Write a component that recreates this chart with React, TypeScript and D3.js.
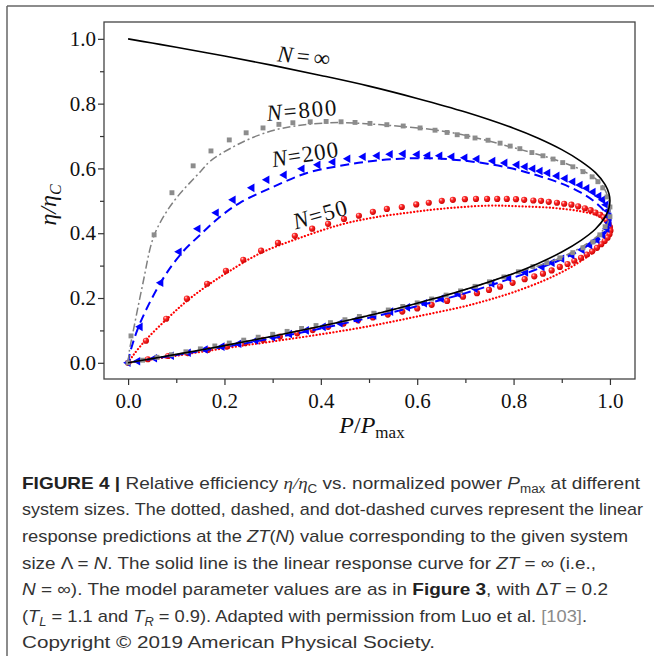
import React, { useEffect, useRef } from 'react';
import * as d3 from 'd3';

const xTicks = [0.0, 0.2, 0.4, 0.6, 0.8, 1.0];
const yTicks = [0.0, 0.2, 0.4, 0.6, 0.8, 1.0];
const minorTicks = [0.1, 0.3, 0.5, 0.7, 0.9];

// N = infinity, solid curve (upper branch then lower branch)
const nInfLine = [
  [0, 1.0], [0.05, 0.987], [0.1, 0.974], [0.2, 0.947], [0.3, 0.918], [0.4, 0.887], [0.5, 0.854],
  [0.6, 0.816], [0.7, 0.774], [0.8, 0.724], [0.85, 0.694], [0.9, 0.658], [0.94, 0.622], [0.97, 0.587],
  [0.99, 0.55], [0.998, 0.522], [1.0, 0.5], [0.998, 0.478], [0.99, 0.45], [0.97, 0.413], [0.94, 0.378],
  [0.9, 0.342], [0.85, 0.306], [0.8, 0.276], [0.7, 0.226], [0.6, 0.184], [0.5, 0.146], [0.4, 0.113],
  [0.3, 0.082], [0.2, 0.053], [0.1, 0.026], [0.05, 0.013], [0, 0],
];

// N = 800, dot-dashed curve
const n800Line = [
  [0, 0], [0.003, 0.04], [0.01, 0.093], [0.03, 0.24], [0.052, 0.385], [0.075, 0.455], [0.102, 0.512],
  [0.15, 0.59], [0.17, 0.622], [0.22, 0.668], [0.27, 0.702], [0.32, 0.724], [0.42, 0.741], [0.54, 0.733],
  [0.67, 0.711], [0.81, 0.66], [0.9, 0.62], [0.95, 0.588], [0.98, 0.555], [0.995, 0.515], [1.0, 0.47],
  [0.995, 0.43], [0.98, 0.4], [0.96, 0.375], [0.9, 0.326], [0.8, 0.275], [0.7, 0.226], [0.6, 0.183],
  [0.5, 0.147], [0.4, 0.113], [0.3, 0.082], [0.2, 0.053], [0.1, 0.026], [0, 0],
];

// N = 800, simulation (squares)
const n800Points = [
  [0, 0], [0.006, 0.083], [0.054, 0.395], [0.091, 0.525], [0.135, 0.608], [0.172, 0.654], [0.21, 0.688],
  [0.245, 0.71], [0.28, 0.725], [0.313, 0.736], [0.342, 0.741], [0.378, 0.744], [0.411, 0.745],
  [0.442, 0.744], [0.471, 0.742], [0.502, 0.739], [0.537, 0.735], [0.571, 0.731], [0.606, 0.725],
  [0.637, 0.718], [0.662, 0.711], [0.683, 0.704], [0.703, 0.699], [0.72, 0.694], [0.747, 0.687],
  [0.772, 0.678], [0.793, 0.669], [0.813, 0.661], [0.838, 0.649], [0.861, 0.639], [0.882, 0.629],
  [0.902, 0.618], [0.923, 0.605], [0.944, 0.59], [0.963, 0.574], [0.975, 0.559], [0.985, 0.54],
  [0.994, 0.512], [1.0, 0.481], [1.0, 0.451], [0.99, 0.42], [0.979, 0.395], [0.965, 0.373],
  [0.944, 0.355], [0.923, 0.34], [0.896, 0.324], [0.869, 0.309], [0.84, 0.297], [0.81, 0.281],
  [0.78, 0.265], [0.75, 0.25], [0.72, 0.236], [0.69, 0.222], [0.66, 0.209], [0.63, 0.197], [0.6, 0.185],
  [0.57, 0.174], [0.54, 0.163], [0.51, 0.153], [0.48, 0.143], [0.45, 0.133], [0.42, 0.124], [0.39, 0.115],
  [0.36, 0.106], [0.33, 0.097], [0.3, 0.088], [0.27, 0.079], [0.24, 0.07], [0.21, 0.061], [0.18, 0.052],
  [0.15, 0.043], [0.12, 0.034], [0.09, 0.025], [0.06, 0.017], [0.03, 0.008],
];

// N = 200, dashed curve
const n200Line = [
  [0, 0], [0.004, 0.031], [0.025, 0.123], [0.071, 0.256], [0.112, 0.34], [0.154, 0.401], [0.191, 0.451],
  [0.232, 0.494], [0.301, 0.543], [0.371, 0.586], [0.44, 0.608], [0.508, 0.623], [0.579, 0.631],
  [0.65, 0.63], [0.72, 0.62], [0.79, 0.602], [0.85, 0.578], [0.9, 0.553], [0.94, 0.525], [0.97, 0.495],
  [0.99, 0.465], [0.998, 0.44], [0.998, 0.42], [0.99, 0.4], [0.975, 0.378], [0.95, 0.358], [0.92, 0.333],
  [0.88, 0.307], [0.84, 0.284], [0.8, 0.263], [0.7, 0.215], [0.6, 0.175], [0.5, 0.139], [0.4, 0.106],
  [0.3, 0.076], [0.2, 0.049], [0.1, 0.024], [0, 0],
];

// N = 200, simulation (left triangles)
const n200Points = [
  [0, 0], [0.025, 0.111], [0.068, 0.247], [0.106, 0.343], [0.145, 0.414], [0.183, 0.463], [0.218, 0.503],
  [0.257, 0.54], [0.288, 0.565], [0.324, 0.58], [0.361, 0.599], [0.394, 0.611], [0.425, 0.62],
  [0.456, 0.63], [0.488, 0.636], [0.517, 0.639], [0.544, 0.644], [0.571, 0.645], [0.6, 0.643],
  [0.622, 0.64], [0.647, 0.639], [0.672, 0.636], [0.699, 0.633], [0.724, 0.629], [0.757, 0.623],
  [0.782, 0.617], [0.807, 0.611], [0.824, 0.605], [0.84, 0.599], [0.855, 0.592], [0.871, 0.586],
  [0.89, 0.577], [0.907, 0.569], [0.923, 0.559], [0.938, 0.549], [0.952, 0.539], [0.965, 0.527],
  [0.977, 0.515], [0.985, 0.503], [0.992, 0.488], [0.996, 0.469], [0.998, 0.451], [0.998, 0.432],
  [0.994, 0.414], [0.985, 0.395], [0.973, 0.38], [0.958, 0.364], [0.942, 0.349], [0.921, 0.333],
  [0.9, 0.321], [0.88, 0.309], [0.859, 0.296], [0.825, 0.279], [0.79, 0.262], [0.755, 0.245],
  [0.72, 0.229], [0.685, 0.213], [0.65, 0.198], [0.615, 0.184], [0.58, 0.171], [0.545, 0.158],
  [0.51, 0.146], [0.475, 0.134], [0.44, 0.122], [0.405, 0.111], [0.37, 0.1], [0.335, 0.089], [0.3, 0.079],
  [0.265, 0.069], [0.23, 0.059], [0.195, 0.05], [0.16, 0.041], [0.125, 0.031], [0.09, 0.022],
  [0.055, 0.014], [0.02, 0.005],
];

// N = 50, dotted curve
const n50Line = [
  [0, 0], [0.01, 0.022], [0.037, 0.071], [0.081, 0.136], [0.122, 0.191], [0.164, 0.238], [0.205, 0.278],
  [0.274, 0.338], [0.363, 0.389], [0.44, 0.426], [0.508, 0.448], [0.579, 0.463], [0.647, 0.475],
  [0.745, 0.485], [0.813, 0.483], [0.882, 0.478], [0.938, 0.468], [0.973, 0.455], [0.99, 0.44],
  [0.998, 0.415], [0.996, 0.392], [0.98, 0.362], [0.96, 0.335], [0.93, 0.305], [0.9, 0.28], [0.86, 0.252],
  [0.8, 0.218], [0.75, 0.195], [0.7, 0.175], [0.6, 0.143], [0.5, 0.113], [0.4, 0.088], [0.3, 0.066],
  [0.2, 0.045], [0.1, 0.022], [0, 0],
];

// N = 50, simulation (balls)
const n50Points = [
  [0, 0], [0.037, 0.068], [0.079, 0.136], [0.122, 0.198], [0.164, 0.244], [0.203, 0.284], [0.239, 0.318],
  [0.276, 0.346], [0.311, 0.37], [0.346, 0.392], [0.382, 0.414], [0.415, 0.429], [0.448, 0.444],
  [0.479, 0.454], [0.508, 0.466], [0.537, 0.475], [0.568, 0.481], [0.598, 0.489], [0.624, 0.494],
  [0.651, 0.5], [0.674, 0.503], [0.699, 0.505], [0.722, 0.506], [0.745, 0.506], [0.766, 0.506],
  [0.786, 0.506], [0.805, 0.505], [0.822, 0.503], [0.841, 0.501], [0.857, 0.5], [0.873, 0.497],
  [0.89, 0.494], [0.905, 0.491], [0.92, 0.488], [0.934, 0.483], [0.948, 0.477], [0.96, 0.471],
  [0.97, 0.464], [0.98, 0.457], [0.987, 0.449], [0.993, 0.44], [0.997, 0.43], [1.0, 0.419],
  [1.001, 0.408], [0.999, 0.397], [0.995, 0.386], [0.989, 0.376], [0.982, 0.366], [0.973, 0.355],
  [0.963, 0.344], [0.952, 0.334], [0.94, 0.324], [0.926, 0.315], [0.912, 0.305], [0.896, 0.296],
  [0.879, 0.285], [0.861, 0.275], [0.843, 0.267], [0.823, 0.258], [0.798, 0.247], [0.772, 0.235],
  [0.749, 0.225], [0.724, 0.215], [0.695, 0.204], [0.662, 0.191], [0.63, 0.179], [0.6, 0.168],
  [0.569, 0.158], [0.539, 0.149], [0.508, 0.14], [0.477, 0.131], [0.447, 0.121], [0.415, 0.111],
  [0.383, 0.101], [0.351, 0.091], [0.315, 0.081], [0.28, 0.071], [0.243, 0.061], [0.205, 0.05],
  [0.166, 0.04], [0.124, 0.03], [0.083, 0.021], [0.041, 0.011],
];

const serif = '"Liberation Serif", "Times New Roman", serif';
const capFont = '"Liberation Sans Narrow", "Liberation Sans", Arial, sans-serif';

export default function App() {
  const axisRef = useRef<SVGGElement>(null);

  const x = d3.scaleLinear().domain([-0.05, 1.052]).range([104, 635]);
  const y = d3.scaleLinear().domain([-0.05, 1.052]).range([379, 22]);
  const line = d3.line<number[]>()
    .x((d) => x(d[0]))
    .y((d) => y(d[1]))
    .curve(d3.curveCatmullRom.alpha(0.5));

  const square = d3.symbol(d3.symbolSquare, 24)();
  const triangle = d3.symbol(d3.symbolTriangle, 32)();

  useEffect(() => {
    const g = d3.select(axisRef.current);
    g.selectAll('*').remove();
    const fmt = d3.format('.1f');

    g.append('g').attr('transform', 'translate(0,379)')
      .call(d3.axisBottom(x).tickValues(xTicks).tickSize(6).tickPadding(8).tickFormat(fmt));
    g.append('g').attr('transform', 'translate(0,379)')
      .call(d3.axisBottom(x).tickValues(minorTicks).tickSize(4).tickFormat(() => ''));
    g.append('g').attr('transform', 'translate(104,0)')
      .call(d3.axisLeft(y).tickValues(yTicks).tickSize(6).tickPadding(2).tickFormat(fmt));
    g.append('g').attr('transform', 'translate(104,0)')
      .call(d3.axisLeft(y).tickValues(minorTicks).tickSize(4).tickFormat(() => ''));

    g.selectAll('.domain').remove();
    g.selectAll('line').attr('stroke', '#333').attr('stroke-width', 1.2);
    g.selectAll('text').attr('font-family', serif).attr('font-size', 21).attr('fill', '#111');
  }, []);

  return (
    <svg width={654} height={656} style={{ position: 'absolute', left: 0, top: 0 }}>
      <defs>
        <radialGradient id="ball" cx="35%" cy="32%" r="70%">
          <stop offset="0" stopColor="#ffe0e0" />
          <stop offset="0.35" stopColor="#ff2a2a" />
          <stop offset="1" stopColor="#c80000" />
        </radialGradient>
        <clipPath id="plot">
          <rect x={104} y={22} width={531} height={357} />
        </clipPath>
      </defs>

      {/* outer figure frame */}
      <line x1={7} y1={6} x2={654} y2={6} stroke="#666" strokeWidth={1.5} />
      <line x1={7} y1={6} x2={7} y2={656} stroke="#666" strokeWidth={1.5} />

      <rect x={104} y={22} width={531} height={357} fill="none" stroke="#444" strokeWidth={1.3} />
      <g ref={axisRef} />

      <g clipPath="url(#plot)">
        {/* N = 50 */}
        <path d={line(n50Line) || ''} fill="none" stroke="#ff0000" strokeWidth={2.2}
          strokeDasharray="0.1 3.3" strokeLinecap="round" />
        {n50Points.map((d, i) => (
          <circle key={'r' + i} cx={x(d[0])} cy={y(d[1])} r={3.1} fill="url(#ball)" />
        ))}

        {/* N = 200 */}
        <path d={line(n200Line) || ''} fill="none" stroke="#0000ff" strokeWidth={2}
          strokeDasharray="9 5" />
        {n200Points.map((d, i) => (
          <path key={'b' + i} d={triangle || ''} fill="#0000ff"
            transform={`translate(${x(d[0])},${y(d[1])}) rotate(-90)`} />
        ))}

        {/* N = 800 */}
        <path d={line(n800Line) || ''} fill="none" stroke="#808080" strokeWidth={1.5}
          strokeDasharray="8 3 2 3" />
        {n800Points.map((d, i) => (
          <path key={'g' + i} d={square || ''} fill="#8c8c8c"
            transform={`translate(${x(d[0])},${y(d[1])})`} />
        ))}

        {/* N = infinity */}
        <path d={line(nInfLine) || ''} fill="none" stroke="#000" strokeWidth={1.6} />
      </g>

      {/* curve labels */}
      <g fontFamily={serif} fontSize={23} fill="#111">
        <text transform="translate(303,64) rotate(6)" textAnchor="middle" textLength={53}>
          <tspan fontStyle="italic">N</tspan>=∞
        </text>
        <text transform="translate(302,118) rotate(-5)" textAnchor="middle" textLength={70}>
          <tspan fontStyle="italic">N</tspan>=800
        </text>
        <text transform="translate(306,162) rotate(-9)" textAnchor="middle" textLength={67}>
          <tspan fontStyle="italic">N</tspan>=200
        </text>
        <text transform="translate(322,222) rotate(-16)" textAnchor="middle" textLength={55}>
          <tspan fontStyle="italic">N</tspan>=50
        </text>
      </g>

      {/* axis titles */}
      <text x={372} y={433} textAnchor="middle" fontFamily={serif} fontSize={24} fill="#111">
        <tspan fontStyle="italic">P</tspan>/<tspan fontStyle="italic">P</tspan>
        <tspan fontSize={17} dy={5}>max</tspan>
      </text>
      <text transform="translate(56,205) rotate(-90)" textAnchor="middle" fontFamily={serif}
        fontSize={24} fill="#111" fontStyle="italic">
        η/η<tspan fontSize={16} dy={5}>C</tspan>
      </text>

      {/* caption */}
      <g fontFamily={capFont} fontSize={17} fill="#333">
        <text x={22} y={489} textLength={618} lengthAdjust="spacingAndGlyphs">
          <tspan fontWeight="bold" fill="#222">FIGURE 4 | </tspan>Relative efficiency <tspan fontFamily={serif} fontStyle="italic">η/η</tspan>
          <tspan fontSize={12} dy={4}>C</tspan><tspan dy={-4}> vs. normalized power </tspan>
          <tspan fontStyle="italic">P</tspan><tspan fontSize={12} dy={4}>max</tspan>
          <tspan dy={-4}> at different</tspan>
        </text>
        <text x={22} y={515} textLength={621} lengthAdjust="spacingAndGlyphs">
          system sizes. The dotted, dashed, and dot-dashed curves represent the linear
        </text>
        <text x={22} y={542} textLength={606} lengthAdjust="spacingAndGlyphs">
          response predictions at the <tspan fontStyle="italic">ZT</tspan>(<tspan fontStyle="italic">N</tspan>) value corresponding to the given system
        </text>
        <text x={22} y={569} textLength={574} lengthAdjust="spacingAndGlyphs">
          size Λ = <tspan fontStyle="italic">N</tspan>. The solid line is the linear response curve for <tspan fontStyle="italic">ZT</tspan> = ∞ (i.e.,
        </text>
        <text x={22} y={595} textLength={586} lengthAdjust="spacingAndGlyphs">
          <tspan fontStyle="italic">N</tspan> = ∞). The model parameter values are as in <tspan fontWeight="bold" fill="#222">Figure 3</tspan>, with Δ<tspan fontStyle="italic">T</tspan> = 0.2
        </text>
        <text x={22} y={622} textLength={565} lengthAdjust="spacingAndGlyphs">
          (<tspan fontStyle="italic">T</tspan><tspan fontSize={12} dy={4} fontStyle="italic">L</tspan>
          <tspan dy={-4}> = 1.1 and </tspan><tspan fontStyle="italic">T</tspan>
          <tspan fontSize={12} dy={4} fontStyle="italic">R</tspan>
          <tspan dy={-4}> = 0.9). Adapted with permission from Luo et al. </tspan>
          <tspan fill="#8a8a8a">[103]</tspan>.
        </text>
        <text x={22} y={648} textLength={413} lengthAdjust="spacingAndGlyphs">
          Copyright © 2019 American Physical Society.
        </text>
      </g>
    </svg>
  );
}
